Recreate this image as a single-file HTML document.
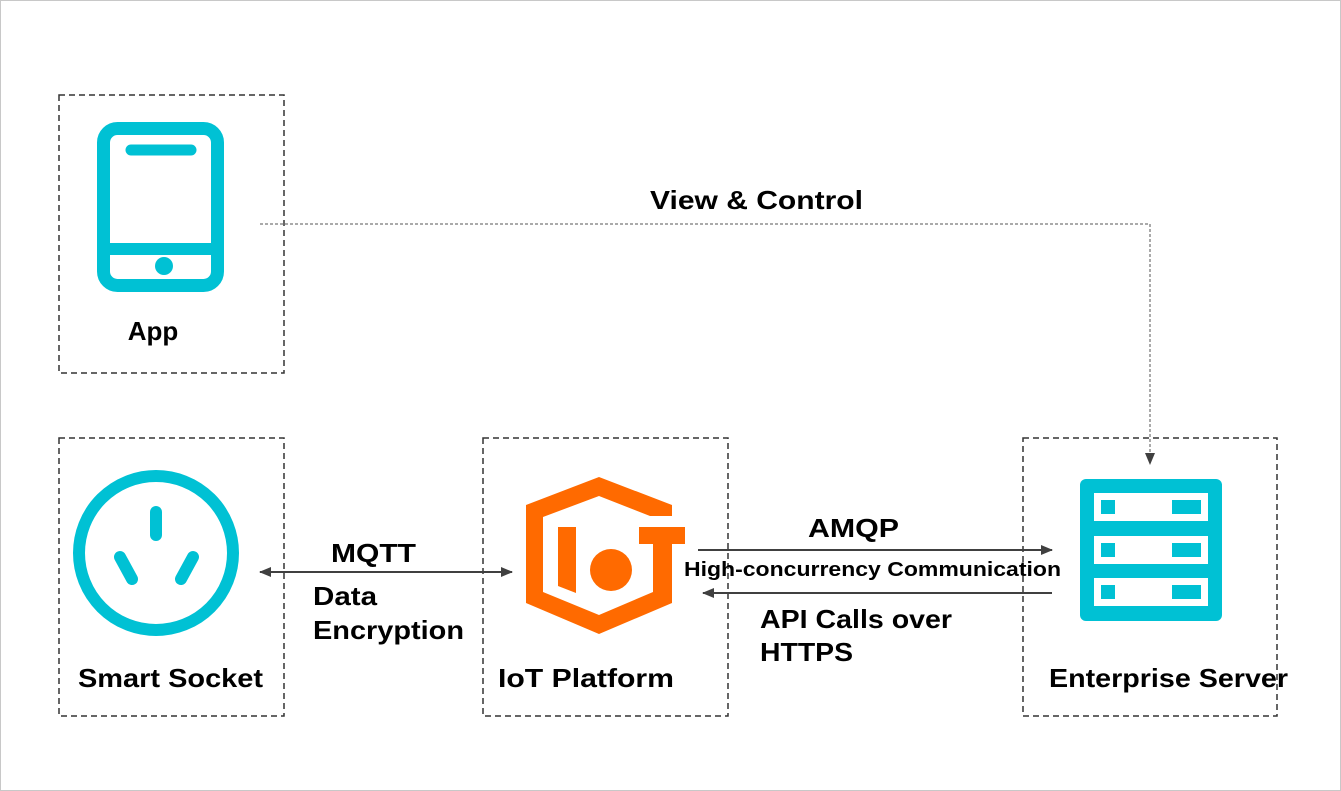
<!DOCTYPE html>
<html><head><meta charset="utf-8"><style>
html,body{margin:0;padding:0;background:#fff;}
svg{display:block;}
text{font-family:"Liberation Sans",sans-serif;font-weight:bold;fill:#000;}
</style></head><body>
<svg width="1341" height="791" viewBox="0 0 1341 791" xmlns="http://www.w3.org/2000/svg">
<defs>
<marker id="ah" markerWidth="12" markerHeight="10" refX="11" refY="5" orient="auto" markerUnits="userSpaceOnUse">
<path d="M0,0 L12,5 L0,10 Z" fill="#404040"/></marker>
<marker id="ahs" markerWidth="12" markerHeight="10" refX="1" refY="5" orient="auto" markerUnits="userSpaceOnUse">
<path d="M12,0 L0,5 L12,10 Z" fill="#404040"/></marker>
</defs>
<rect x="0.5" y="0.5" width="1340" height="790" fill="#fff" stroke="#c8c8c8"/>
<g fill="none" stroke="#333" stroke-width="1.5" stroke-dasharray="6,4">
<rect x="59" y="95" width="225" height="278"/>
<rect x="59" y="438" width="225" height="278"/>
<rect x="483" y="438" width="245" height="278"/>
<rect x="1023" y="438" width="254" height="278"/>
</g>
<!-- phone -->
<rect x="103.5" y="128.5" width="114" height="157" rx="14" fill="none" stroke="#00c1d4" stroke-width="13"/>
<rect x="103" y="243" width="115" height="12" fill="#00c1d4"/>
<circle cx="164" cy="266" r="9" fill="#00c1d4"/>
<line x1="131" y1="150" x2="191" y2="150" stroke="#00c1d4" stroke-width="11" stroke-linecap="round"/>
<!-- socket -->
<circle cx="156" cy="553" r="77" fill="none" stroke="#00c1d4" stroke-width="12"/>
<g stroke="#00c1d4" stroke-width="12" stroke-linecap="round">
<line x1="156" y1="512" x2="156" y2="535"/>
<line x1="120" y1="557" x2="132" y2="579"/>
<line x1="193" y1="557" x2="181" y2="579"/>
</g>
<!-- IoT -->
<polygon fill="#ff6a00" points="672,505 599,477 526,505 526,603 599,634 672,603 672,544 653,544 653,592 599,615 543,592 543,517 599,496 650,516 672,516"/>
<polygon fill="#ff6a00" points="558,527 576,527 576,593 558,586"/>
<circle cx="611" cy="570" r="21" fill="#ff6a00"/>
<rect x="639" y="527" width="46" height="17" fill="#ff6a00"/>
<!-- server -->
<rect x="1080" y="479" width="142" height="142" rx="6" fill="#00c1d4"/>
<g fill="#fff"><rect x="1094" y="493" width="114" height="28"/><rect x="1094" y="536" width="114" height="28"/><rect x="1094" y="578" width="114" height="28"/></g>
<g fill="#00c1d4">
<rect x="1101" y="500" width="14" height="14"/><rect x="1172" y="500" width="29" height="14"/>
<rect x="1101" y="543" width="14" height="14"/><rect x="1172" y="543" width="29" height="14"/>
<rect x="1101" y="585" width="14" height="14"/><rect x="1172" y="585" width="29" height="14"/>
</g>
<!-- connectors -->
<polyline points="260,224 1150,224 1150,464" fill="none" stroke="#555" stroke-width="1" stroke-dasharray="3,2" marker-end="url(#ah)"/>
<line x1="260" y1="572" x2="512" y2="572" stroke="#404040" stroke-width="2" marker-start="url(#ahs)" marker-end="url(#ah)"/>
<line x1="698" y1="550" x2="1052" y2="550" stroke="#404040" stroke-width="2" marker-end="url(#ah)"/>
<line x1="1052" y1="593" x2="703" y2="593" stroke="#404040" stroke-width="2" marker-end="url(#ah)"/>
<!-- labels -->
<text x="153" y="340" font-size="26" text-anchor="middle">App</text>
<text x="78" y="687" font-size="26" textLength="185" lengthAdjust="spacingAndGlyphs">Smart Socket</text>
<text x="498" y="687" font-size="26" textLength="176" lengthAdjust="spacingAndGlyphs">IoT Platform</text>
<text x="1049" y="687" font-size="26" textLength="239" lengthAdjust="spacingAndGlyphs">Enterprise Server</text>
<text x="650" y="209" font-size="26" textLength="213" lengthAdjust="spacingAndGlyphs">View &amp; Control</text>
<text x="331" y="562" font-size="26" textLength="85" lengthAdjust="spacingAndGlyphs">MQTT</text>
<text x="313" y="605" font-size="26" textLength="64" lengthAdjust="spacingAndGlyphs">Data</text>
<text x="313" y="639" font-size="26" textLength="151" lengthAdjust="spacingAndGlyphs">Encryption</text>
<text x="808" y="537" font-size="26" textLength="91" lengthAdjust="spacingAndGlyphs">AMQP</text>
<text x="684" y="576" font-size="20" textLength="377" lengthAdjust="spacingAndGlyphs">High-concurrency Communication</text>
<text x="760" y="628" font-size="26" textLength="192" lengthAdjust="spacingAndGlyphs">API Calls over</text>
<text x="760" y="661" font-size="26" textLength="93" lengthAdjust="spacingAndGlyphs">HTTPS</text>
</svg>
</body></html>
